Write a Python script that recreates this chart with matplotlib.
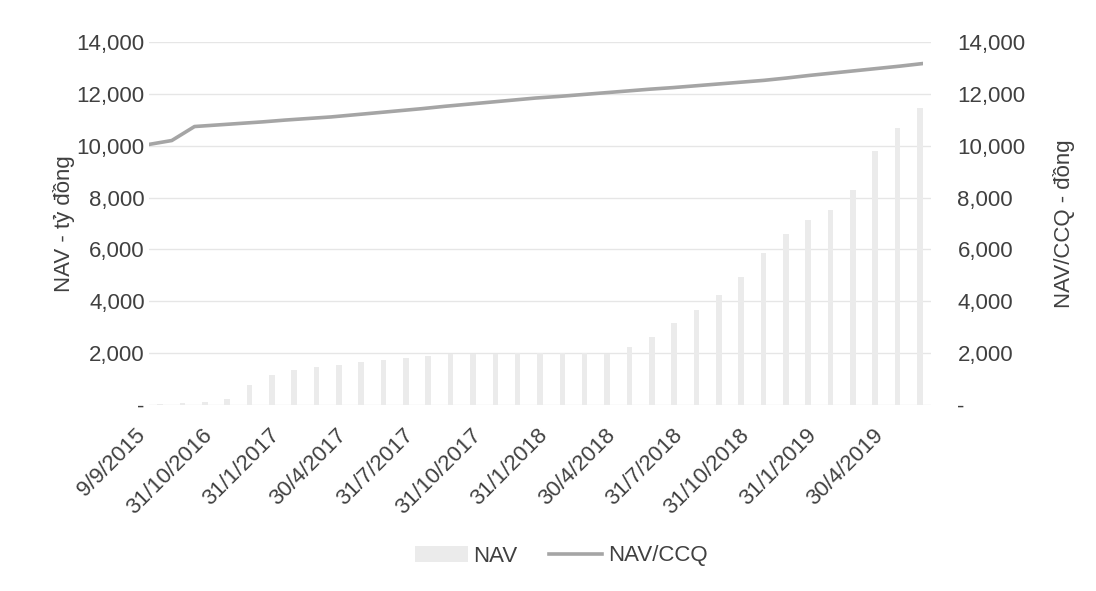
import matplotlib
matplotlib.use("Agg")
import matplotlib.pyplot as plt
from matplotlib.ticker import FuncFormatter, FixedLocator
from matplotlib.lines import Line2D
from matplotlib.patches import Patch
from matplotlib.transforms import ScaledTranslation

plt.rcParams['font.family'] = ['Liberation Sans', 'DejaVu Sans']

categories = ["9/9/2015", "31/8/2016", "30/9/2016", "31/10/2016", "30/11/2016", "31/12/2016",
              "31/1/2017", "28/2/2017", "31/3/2017", "30/4/2017", "31/5/2017", "30/6/2017",
              "31/7/2017", "31/8/2017", "30/9/2017", "31/10/2017", "30/11/2017", "31/12/2017",
              "31/1/2018", "28/2/2018", "31/3/2018", "30/4/2018", "31/5/2018", "30/6/2018",
              "31/7/2018", "31/8/2018", "30/9/2018", "31/10/2018", "30/11/2018", "31/12/2018",
              "31/1/2019", "28/2/2019", "31/3/2019", "30/4/2019", "31/5/2019"]

nav = [30, 60, 100, 250, 770, 1150, 1350, 1450, 1550, 1650, 1730, 1800, 1900, 1950, 1970,
       1980, 1990, 2000, 2000, 1990, 1970, 2240, 2620, 3150, 3650, 4240, 4950, 5850, 6600,
       7130, 7510, 8280, 9780, 10670, 11440]

nav_ccq = [10050, 10200, 10740, 10800, 10860, 10920, 10990, 11050, 11110, 11190, 11270,
           11350, 11430, 11520, 11600, 11680, 11760, 11840, 11900, 11970, 12040, 12110,
           12180, 12240, 12310, 12380, 12450, 12520, 12610, 12710, 12800, 12890, 12980,
           13070, 13170]

yticks = [0, 2000, 4000, 6000, 8000, 10000, 12000, 14000]

text_color = '#404040'
bar_color = '#ebebeb'
line_color = '#a5a5a5'
grid_color = '#e6e6e6'
fs = 16

W, H = 1096, 591
fig = plt.figure(figsize=(W / 100, H / 100), dpi=100)

left, right, top, bottom = 149 / W, 931 / W, 1 - 42 / H, 1 - 405 / H
ax = fig.add_axes([left, bottom, right - left, top - bottom])

def fmt(v, pos):
    return '-' if v == 0 else f'{int(v):,}'

x = list(range(len(categories)))
ax.bar(x, nav, width=0.25, color=bar_color, zorder=2)
ax.set_xlim(-0.5, len(categories) - 0.5)
ax.set_ylim(0, 14000)
ax.yaxis.set_major_locator(FixedLocator(yticks))
ax.yaxis.set_major_formatter(FuncFormatter(fmt))
ax.grid(axis='y', color=grid_color, linewidth=1, zorder=0)
ax.set_axisbelow(True)
for s in ax.spines.values():
    s.set_visible(False)
ax.tick_params(axis='y', length=0, labelsize=fs, colors=text_color, pad=3)
ax.tick_params(axis='x', length=0, labelsize=fs, colors=text_color, pad=14)
tick_idx = list(range(0, len(categories), 3))
ax.set_xticks(tick_idx)
ax.set_xticklabels([categories[i] for i in tick_idx], rotation=45, ha='right', va='top',
                   rotation_mode='anchor', fontsize=fs, color=text_color)
off = ScaledTranslation(-25 / 100, 0, fig.dpi_scale_trans)
for lab in ax.get_xticklabels():
    lab.set_transform(lab.get_transform() + off)
ax.set_ylabel('NAV - tỷ đồng', fontsize=fs, color=text_color, labelpad=1)

# secondary axes for line (on tick marks)
lr = 923 / W
ax2 = fig.add_axes([left, bottom, lr - left, top - bottom])
ax2.patch.set_visible(False)
ax2.plot(x, nav_ccq, color=line_color, linewidth=2.6, solid_capstyle='round', zorder=3)
ax2.set_xlim(0, len(categories) - 1)
ax2.set_ylim(0, 14000)
ax2.set_xticks([])
ax2.set_yticks([])
for s in ax2.spines.values():
    s.set_visible(False)

ax3 = ax.twinx()
ax3.set_ylim(0, 14000)
ax3.yaxis.set_major_locator(FixedLocator(yticks))
ax3.yaxis.set_major_formatter(FuncFormatter(fmt))
ax3.tick_params(axis='y', length=0, labelsize=fs, colors=text_color, pad=19)
for s in ax3.spines.values():
    s.set_visible(False)
ax3.set_ylabel('NAV/CCQ - đồng', fontsize=fs, color=text_color, labelpad=20)

handles = [Patch(facecolor=bar_color, edgecolor='none'),
           Line2D([0], [0], color=line_color, linewidth=2.6)]
fig.legend(handles, ['NAV', 'NAV/CCQ'], loc='center', bbox_to_anchor=(561 / W, 1 - 556 / H),
           ncol=2, frameon=False, fontsize=fs, labelcolor=text_color,
           handlelength=2.4, handleheight=0.7, columnspacing=1.4, handletextpad=0.25)

fig.savefig('out.png', dpi=100)
